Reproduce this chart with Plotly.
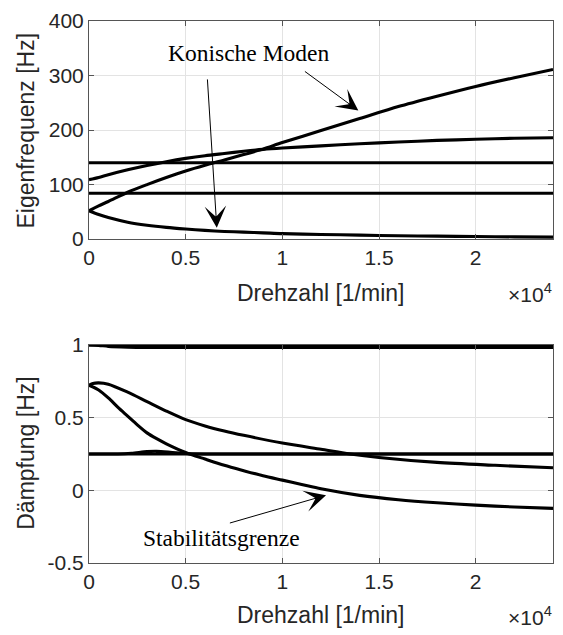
import plotly.graph_objects as go

# ---------------- data (top: Eigenfrequenz) ----------------
rpm_top = [0, 500, 1000, 2000, 3000, 4000, 5000, 6000, 7000, 8000, 9000,
           10000, 12000, 14000, 16000, 18000, 20000, 22000, 24000]
conic_forward = [52, 61, 69, 86, 100, 113, 125, 135.5, 145, 155, 165,
                 177, 199, 221, 243, 262, 280, 296, 311]
mode_b = [109, 113, 118, 127, 135, 142, 148, 153, 157, 161, 164.5,
          167, 171, 175, 178, 181, 183, 185, 186]
conic_backward = [52, 45, 39.5, 31, 25.5, 21.5, 18.5, 16, 14, 12.8, 11.5,
                  10, 8.5, 7.3, 6.2, 5.4, 4.7, 4.1, 3.6]
rpm_flat = [0, 24000]
flat_140 = [140, 140]
flat_84 = [84, 84]

# ---------------- data (bottom: Dämpfung) ----------------
rpm_e = [0, 200, 500, 1000, 2000, 3000, 4000, 5000, 6000, 7000, 8000,
         10000, 12000, 13500, 15000, 18000, 21000, 24000]
damp_e = [0.723, 0.735, 0.739, 0.73, 0.675, 0.61, 0.545, 0.486, 0.443, 0.408, 0.378,
          0.325, 0.282, 0.25, 0.226, 0.192, 0.172, 0.155]
rpm_f = [0, 500, 1000, 1500, 2000, 2500, 3000, 3500, 4000, 5000, 6000, 7000,
         8000, 9000, 10000, 11000, 12000, 14000, 16000, 18000, 20000, 22000, 24000]
damp_f = [0.723, 0.69, 0.635, 0.57, 0.51, 0.45, 0.395, 0.355, 0.32, 0.26, 0.215, 0.172,
          0.135, 0.1, 0.07, 0.04, 0.01, -0.035, -0.065, -0.086, -0.102, -0.115, -0.124]
rpm_g = [0, 1500, 2200, 3000, 3500, 4200, 5000, 6000, 24000]
damp_g_bump = [0.25, 0.25, 0.255, 0.266, 0.268, 0.262, 0.253, 0.25, 0.25]
damp_g = [0.25, 0.25]
rpm_d = [0, 500, 1000, 2000, 3000, 24000]
damp_d = [1.0, 0.997, 0.99, 0.985, 0.983, 0.983]
damp_one = [1.0, 1.0]

x_tickvals = [0, 5000, 10000, 15000, 20000]
x_ticktext = ["0", "0.5", "1", "1.5", "2"]
y1_tickvals = [0, 100, 200, 300, 400]
y2_tickvals = [-0.5, 0, 0.5, 1]
y2_ticktext = ["-0.5", "0", "0.5", "1"]

LINE = dict(color="black", width=3.1)
SANS = "Liberation Sans, Arial, sans-serif"
SERIF = "Liberation Serif, Times New Roman, serif"
TXT = "#262626"
AX = "#555555"
GRID = "#e3e3e3"

fig = go.Figure()
top_series = [(rpm_flat, flat_140), (rpm_flat, flat_84), (rpm_top, conic_forward),
              (rpm_top, mode_b), (rpm_top, conic_backward)]
for xs, ys in top_series:
    fig.add_trace(go.Scatter(x=xs, y=ys, mode="lines",
                             line=dict(shape="spline", smoothing=0.8, **LINE),
                             xaxis="x", yaxis="y", showlegend=False, hoverinfo="skip"))
bottom_series = [(rpm_flat, damp_one), (rpm_d, damp_d), (rpm_flat, damp_g), (rpm_g, damp_g_bump),
                 (rpm_e, damp_e), (rpm_f, damp_f)]
for xs, ys in bottom_series:
    fig.add_trace(go.Scatter(x=xs, y=ys, mode="lines",
                             line=dict(shape="spline", smoothing=0.8, **LINE),
                             xaxis="x2", yaxis="y2", showlegend=False, hoverinfo="skip"))

axis_common = dict(showline=True, linecolor=AX, linewidth=1, mirror="ticks", ticks="inside",
                   ticklen=5, tickcolor=AX, showgrid=True, gridcolor=GRID, gridwidth=1,
                   zeroline=False, tickfont=dict(family=SANS, size=21, color=TXT))

fig.update_layout(
    width=563, height=635,
    margin=dict(l=89, r=9, t=13, b=72),
    paper_bgcolor="white", plot_bgcolor="white",
    xaxis=dict(domain=[0, 1], anchor="y", range=[0, 24000], tickvals=x_tickvals,
               ticktext=x_ticktext, **axis_common),
    yaxis=dict(domain=[0.5976, 1], anchor="x", range=[0, 400], tickvals=y1_tickvals,
               **axis_common),
    xaxis2=dict(domain=[0, 1], anchor="y2", range=[0, 24000], tickvals=x_tickvals,
                ticktext=x_ticktext, **axis_common),
    yaxis2=dict(domain=[0, 0.4024], anchor="x2", range=[-0.5, 1], tickvals=y2_tickvals,
                ticktext=y2_ticktext, **axis_common),
)

def py(p):
    return (563 - p) / 550.0

def px(p):
    return (p - 89) / 465.0

def label(text, x, y, size, angle=0, xanchor="center", font=SANS, color=TXT):
    return dict(text=text, x=x, y=y, xref="paper", yref="paper", showarrow=False,
                xanchor=xanchor, yanchor="middle", textangle=angle,
                font=dict(family=font, size=size, color=color))

ann = []
# axis titles
ann.append(label("Drehzahl [1/min]", px(321), py(289), 23))
ann.append(label("Drehzahl [1/min]", px(321), py(616), 23))
ann.append(label("Eigenfrequenz [Hz]", px(26), py(124), 23, angle=-90))
ann.append(label("Dämpfung [Hz]", px(25), py(452), 23, angle=-90))
# exponent labels
for yy in (289, 617):
    ann.append(label("×10<sup>4</sup>", px(555), py(yy), 21, xanchor="right"))
# text annotations with arrows
ann.append(dict(text="Konische Moden", x=8230, y=342, xref="x", yref="y", showarrow=False,
                xanchor="center", yanchor="middle",
                font=dict(family=SERIF, size=23.5, color="black")))
ann.append(dict(text="", x=6610, y=21, ax=6120, ay=295.6, xref="x", yref="y", axref="x", ayref="y",
                showarrow=True, arrowhead=3, arrowsize=3.6, arrowwidth=1, arrowcolor="black"))
ann.append(dict(text="", x=13930, y=235.8, ax=11090, ay=309.5, xref="x", yref="y", axref="x", ayref="y",
                showarrow=True, arrowhead=3, arrowsize=3.6, arrowwidth=1, arrowcolor="black"))
ann.append(dict(text="Stabilitätsgrenze", x=6850, y=-0.325, xref="x2", yref="y2", showarrow=False,
                xanchor="center", yanchor="middle",
                font=dict(family=SERIF, size=23.5, color="black")))
ann.append(dict(text="", x=12260, y=-0.034, ax=7210, ay=-0.228, xref="x2", yref="y2", axref="x2", ayref="y2",
                showarrow=True, arrowhead=3, arrowsize=3.6, arrowwidth=1, arrowcolor="black"))
fig.update_layout(annotations=ann)

fig.write_html("out.html")
